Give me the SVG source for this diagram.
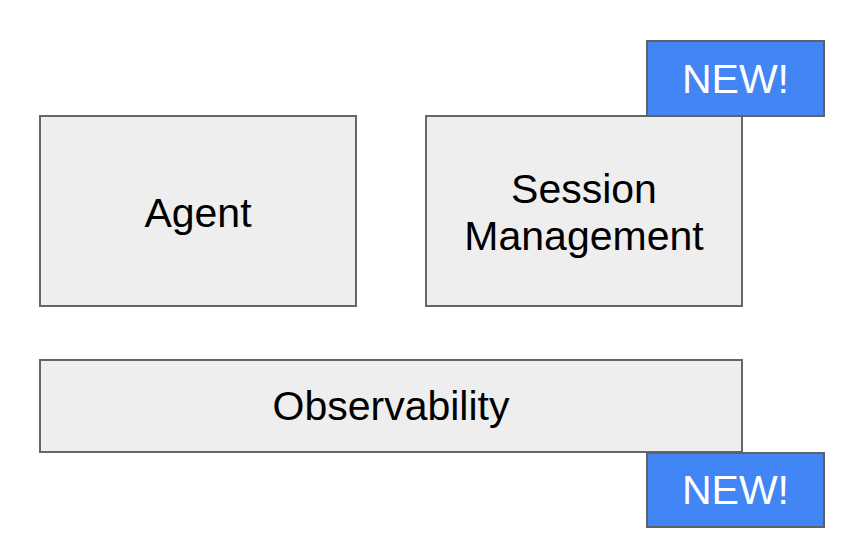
<svg xmlns="http://www.w3.org/2000/svg" width="854" height="552" viewBox="0 0 854 552">
<style>
.box{fill:#eeeeee;stroke:#666666;stroke-width:2}
.badge{fill:#4285f4;stroke:#5f6368;stroke-width:2}
.t{font-family:"Liberation Sans",Arial,sans-serif;font-size:41px;text-anchor:middle;fill:#000000}
.w{fill:#ffffff}
</style>
<rect width="854" height="552" fill="#ffffff"/>
<g id="connectors"></g>
<g id="agent">
<rect class="box" x="40" y="116" width="316" height="190"/>
<text class="t" x="198" y="227">Agent</text>
</g>
<g id="session-management">
<rect class="box" x="426" y="116" width="316" height="190"/>
<text class="t" x="584" y="203">Session</text>
<text class="t" x="584" y="250">Management</text>
</g>
<g id="observability">
<rect class="box" x="40" y="360" width="702" height="92"/>
<text class="t" x="391" y="420">Observability</text>
</g>
<g id="new-badge-session">
<rect class="badge" x="647" y="41" width="177" height="75"/>
<text class="t w" x="735.5" y="93">NEW!</text>
</g>
<g id="new-badge-observability">
<rect class="badge" x="647" y="453" width="177" height="74"/>
<text class="t w" x="735.5" y="504">NEW!</text>
</g>
</svg>
